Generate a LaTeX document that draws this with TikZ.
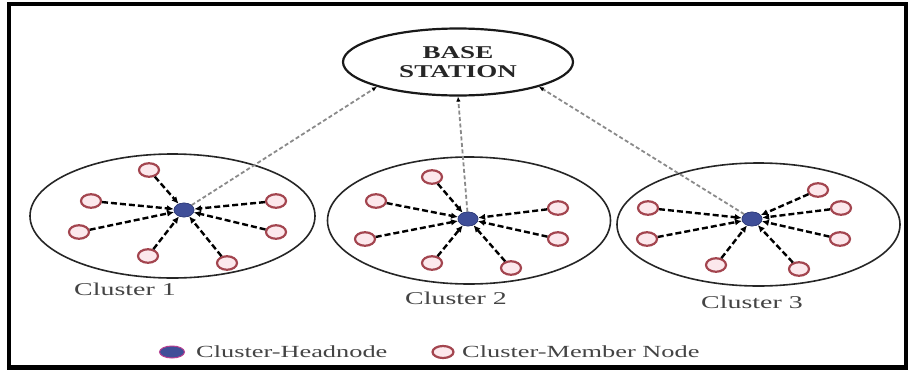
\documentclass[tikz,border=0pt]{standalone}
\usepackage{fontspec}
\usetikzlibrary{shapes.geometric,arrows.meta}
\newfontfamily\widefont[FakeStretch=1.55]{Liberation Serif}
\newfontfamily\widebold[FakeStretch=1.5]{Liberation Serif Bold}
\definecolor{memred}{HTML}{A3454F}
\definecolor{mempink}{HTML}{FCE8EC}
\definecolor{headblue}{HTML}{3F4E98}
\definecolor{textgray}{HTML}{444444}
\definecolor{linkgray}{HTML}{8A8A8A}
\tikzset{
  member/.style={ellipse, draw=memred, fill=mempink, line width=2.2pt, minimum width=20pt, minimum height=13.5pt, inner sep=0pt},
  head/.style={ellipse, draw=headblue!80!black, fill=headblue, line width=0.6pt, minimum width=20pt, minimum height=14pt, inner sep=0pt},
  cluster/.style={ellipse, draw=black!85, line width=1.6pt, inner sep=0pt},
  memlink/.style={draw=black, line width=2.4pt, dash pattern=on 6pt off 3pt, -{Latex[length=7pt,width=6.5pt]}},
  bslink/.style={draw=linkgray, line width=1.8pt, dash pattern=on 4pt off 2.5pt, -{Latex[length=5pt,width=4.5pt,color=black]}},
  clabel/.style={text=textgray, font={\widefont\fontsize{18}{20}\selectfont}, inner sep=0pt},
  lglabel/.style={text=textgray, font={\widefont\fontsize{17}{19}\selectfont}, inner sep=0pt, anchor=west}
}
\begin{document}
\begin{tikzpicture}[x=1pt,y=-1pt]
\useasboundingbox (0,0) rectangle (908,370);
\fill[white] (0,0) rectangle (908,370);
\draw[line width=4.5pt] (9,4) rectangle (906,367.5);

% base station
\node[ellipse, draw=black!90, line width=2.2pt, minimum width=230pt, minimum height=67pt, align=center,
      font={\widebold\fontsize{18}{19}\selectfont}, text=black!85] (bs) at (458,62) {BASE\\STATION};

% clusters
\node[cluster, minimum width=285pt, minimum height=124pt] (c1) at (172.5,216) {};
\node[cluster, minimum width=283pt, minimum height=127pt] (c2) at (469,220.5) {};
\node[cluster, minimum width=283pt, minimum height=123pt] (c3) at (758.5,224.5) {};

% heads
\node[head] (h1) at (184,210) {};
\node[head] (h2) at (468,219) {};
\node[head] (h3) at (752,219) {};

% members cluster 1
\node[member] (a1) at (149,170) {};
\node[member] (a2) at (91,201) {};
\node[member] (a3) at (276,201) {};
\node[member] (a4) at (79,232) {};
\node[member] (a5) at (276,232) {};
\node[member] (a6) at (148,256) {};
\node[member] (a7) at (227,263) {};
% members cluster 2
\node[member] (b1) at (432,177) {};
\node[member] (b2) at (376,201) {};
\node[member] (b3) at (558,208) {};
\node[member] (b4) at (365,239) {};
\node[member] (b5) at (558,239) {};
\node[member] (b6) at (432,263) {};
\node[member] (b7) at (511,268) {};
% members cluster 3
\node[member] (d1) at (818,190) {};
\node[member] (d2) at (648,208) {};
\node[member] (d3) at (841,208) {};
\node[member] (d4) at (647,239) {};
\node[member] (d5) at (840,239) {};
\node[member] (d6) at (716,265) {};
\node[member] (d7) at (799,269) {};

% links head -> base station
\draw[bslink] (h1) -- (bs.197);
\draw[bslink] (h2) -- (bs.south);
\draw[bslink] (h3) -- (bs.343);

% member -> head links
\foreach \m in {a1,a2,a3,a4,a5,a6,a7} \draw[memlink] (\m) -- (h1);
\foreach \m in {b1,b2,b3,b4,b5,b6,b7} \draw[memlink] (\m) -- (h2);
\foreach \m in {d1,d2,d3,d4,d5,d6,d7} \draw[memlink] (\m) -- (h3);

% redraw heads on top
\node[head] at (h1) {};
\node[head] at (h2) {};
\node[head] at (h3) {};

% cluster labels
\node[clabel] (l1) at (125,289) {Cluster 1};
\node[clabel] (l2) at (456,298) {Cluster 2};
\node[clabel] (l3) at (752,302) {Cluster 3};

% legend
\node[head, draw=magenta!60!headblue, line width=1pt, minimum width=25pt, minimum height=12pt] (lh) at (172,352) {};
\node[lglabel] (lht) at (196,352) {Cluster-Headnode};
\node[member, minimum width=21pt, minimum height=12pt] (lm) at (443,352) {};
\node[lglabel] (lmt) at (462,352) {Cluster-Member Node};
\end{tikzpicture}
\end{document}
